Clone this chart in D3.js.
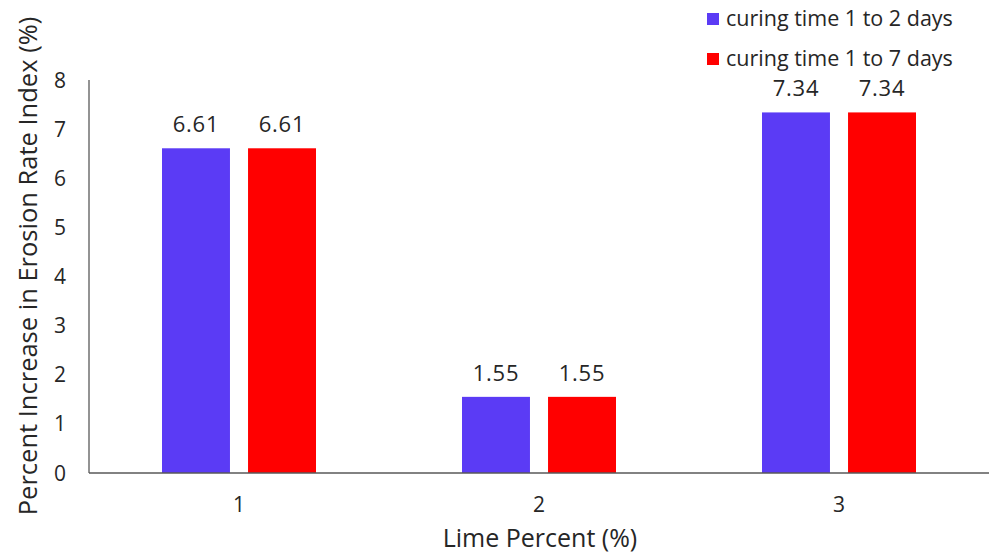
<!DOCTYPE html>
<html><head><meta charset="utf-8">
<script src="https://cdn.jsdelivr.net/npm/d3@7"></script>
<style>body{margin:0;background:#fff}svg{display:block}text{font-family:"Open Sans",Lato,sans-serif;fill:#262626}</style>
</head><body><svg id="c" width="991" height="555"></svg>
<script>
const categories = ["1", "2", "3"];
const seriesNames = ["curing time 1 to 2 days", "curing time 1 to 7 days"];
const series1 = [6.61, 1.55, 7.34];
const series2 = [6.61, 1.55, 7.34];
const yTicks = [0, 1, 2, 3, 4, 5, 6, 7, 8];
const colors = ["#5b3bf5", "#ff0000"];

const svg = d3.select("#c");
const mLeft = 89, mRight = 989, mTop = 80, mBottom = 473;
const x = d3.scaleBand().domain(categories).range([mLeft, mRight]);
const inner = d3.scaleBand().domain([0, 1]).range([-77, 77]).paddingInner(0.21);
const y = d3.scaleLinear().domain([0, 8]).range([mBottom, mTop]);

const data = categories.map((c, i) => ({c, vals: [series1[i], series2[i]]}));

svg.append("line").attr("x1", mLeft).attr("x2", mLeft).attr("y1", mTop).attr("y2", mBottom)
  .attr("stroke", "#595959").attr("stroke-width", 1.3);

const g = svg.selectAll("g.cat").data(data).enter().append("g")
  .attr("transform", d => `translate(${x(d.c) + x.bandwidth() / 2},0)`);
g.selectAll("rect").data(d => d.vals).enter().append("rect")
  .attr("x", (v, j) => inner(j)).attr("width", inner.bandwidth())
  .attr("y", v => y(v)).attr("height", v => mBottom - y(v))
  .attr("fill", (v, j) => colors[j]);
g.selectAll("text.lbl").data(d => d.vals).enter().append("text")
  .attr("class", "lbl")
  .attr("x", (v, j) => inner(j) + inner.bandwidth() / 2)
  .attr("y", v => y(v) - 16).attr("text-anchor", "middle")
  .attr("font-size", 22).attr("letter-spacing", 0.8).text(v => v.toFixed(2));

svg.append("line").attr("x1", mLeft).attr("x2", mRight).attr("y1", mBottom).attr("y2", mBottom)
  .attr("stroke", "#595959").attr("stroke-width", 1.3);

svg.selectAll("text.yt").data(yTicks).enter().append("text").attr("class", "yt")
  .attr("x", 66).attr("y", d => y(d) + 7.5).attr("text-anchor", "end")
  .attr("font-size", 21).text(d => d);

svg.selectAll("text.xt").data(categories).enter().append("text").attr("class", "xt")
  .attr("x", d => x(d) + x.bandwidth() / 2).attr("y", 512).attr("text-anchor", "middle")
  .attr("font-size", 21).text(d => d);

svg.append("text").attr("x", 540).attr("y", 547).attr("text-anchor", "middle")
  .attr("font-size", 25).text("Lime Percent (%)");
svg.append("text").attr("transform", "translate(37,266) rotate(-90)").attr("text-anchor", "middle")
  .attr("font-size", 25.5).text("Percent Increase in Erosion Rate Index (%)");

const lg = svg.selectAll("g.lg").data(seriesNames).enter().append("g")
  .attr("transform", (d, i) => `translate(707,${13 + i * 40})`);
lg.append("rect").attr("width", 12).attr("height", 12).attr("fill", (d, i) => colors[i]);
lg.append("text").attr("x", 19).attr("y", 13).attr("font-size", 21.5).text(d => d);
</script></body></html>
